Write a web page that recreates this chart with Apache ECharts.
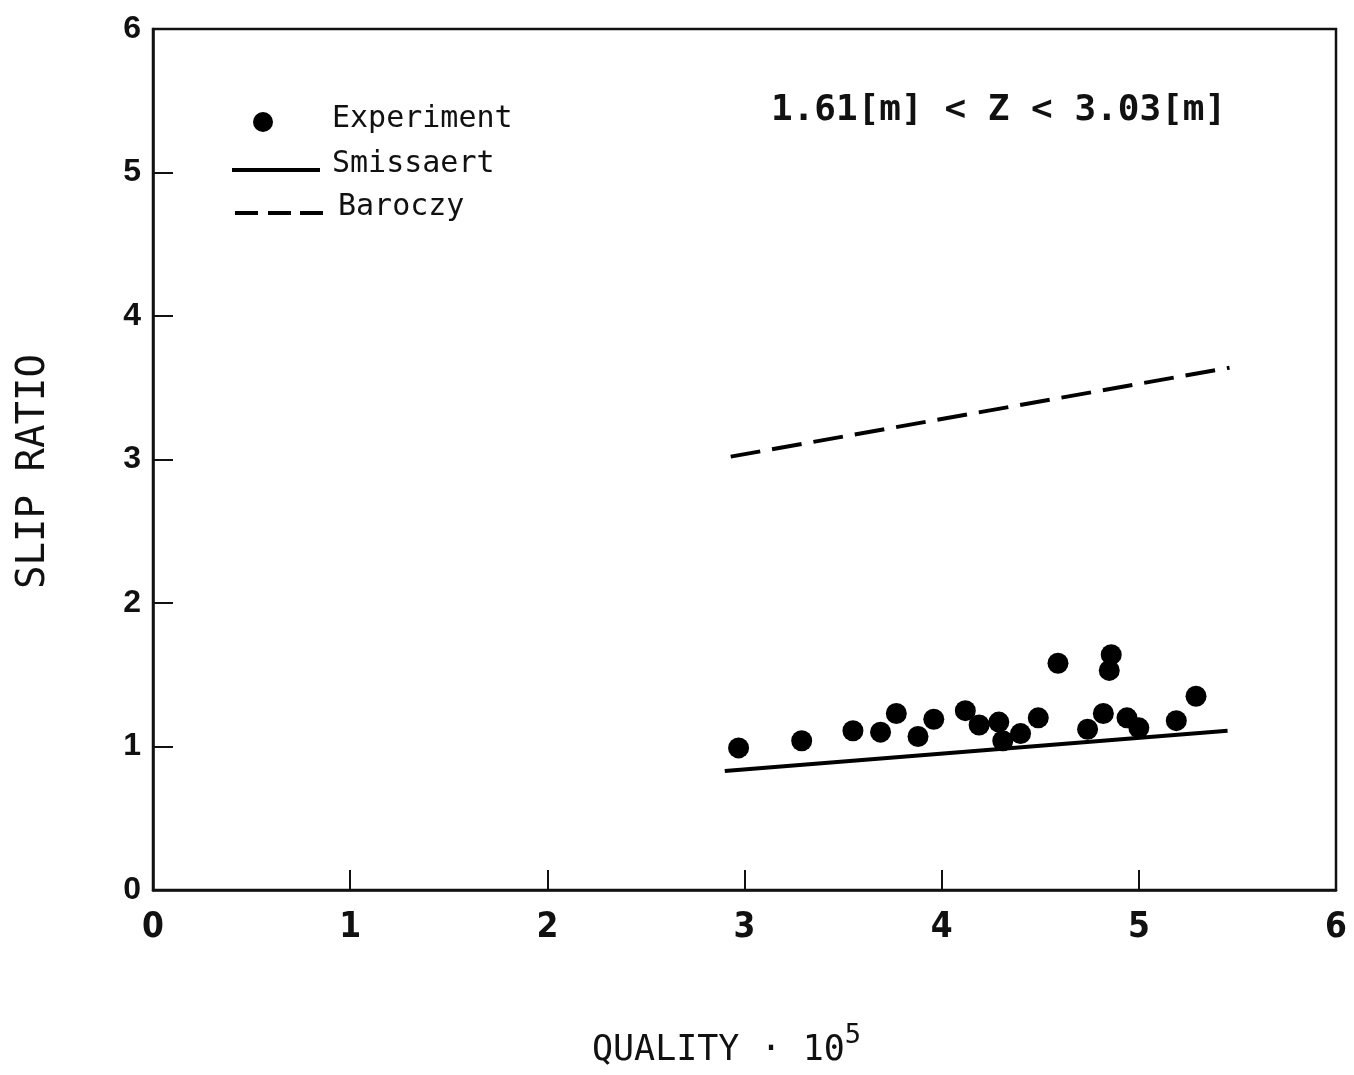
<!DOCTYPE html>
<html>
<head>
<meta charset="utf-8">
<style>
  html, body { margin: 0; padding: 0; background: #fff; }
  #chart { width: 1354px; height: 1075px; }
</style>
<script src="https://cdn.jsdelivr.net/npm/echarts@6/dist/echarts.min.js"></script>
</head>
<body>
<div id="chart"></div>
<script>
// ---- data ----
const xTicks = [0, 1, 2, 3, 4, 5, 6];
const yTicks = [0, 1, 2, 3, 4, 5, 6];

const expX = [2.97, 3.29, 3.55, 3.69, 3.77, 3.88, 3.96, 4.12, 4.19, 4.29, 4.31, 4.40, 4.49, 4.59, 4.74, 4.82, 4.86, 4.85, 4.94, 5.00, 5.19, 5.29];
const expY = [0.99, 1.04, 1.11, 1.10, 1.23, 1.07, 1.19, 1.25, 1.15, 1.17, 1.04, 1.09, 1.20, 1.58, 1.12, 1.23, 1.64, 1.53, 1.20, 1.13, 1.18, 1.35];

const smissaertX = [2.90, 5.45];
const smissaertY = [0.83, 1.11];

const baroczyX = [2.93, 5.46];
const baroczyY = [3.02, 3.64];

const zoneLabel = '1.61[m] < Z < 3.03[m]';

// ---- build ----
const pairs = (xs, ys) => xs.map((x, i) => [x, ys[i]]);
const MONO = 'DejaVu Sans Mono';

const chart = echarts.init(document.getElementById('chart'), null, { renderer: 'canvas' });

const legendText = (padLeft, padBottom) => ({
  fontFamily: MONO,
  fontSize: 30,
  color: '#111',
  rich: {
    t: {
      fontFamily: MONO,
      fontSize: 30,
      color: '#111',
      padding: [0, 0, padBottom, padLeft]
    }
  }
});

const option = {
  backgroundColor: '#ffffff',
  animation: false,
  title: {
    text: zoneLabel,
    left: 766,
    top: 88,
    textStyle: {
      fontFamily: MONO,
      fontWeight: 'bold',
      fontSize: 36,
      color: '#111'
    }
  },
  legend: [
    {
      left: 248,
      top: 99,
      itemWidth: 20,
      itemHeight: 20,
      formatter: '{t|{name}}',
      textStyle: legendText(54, 6),
      data: [{ name: 'Experiment', icon: 'circle' }]
    },
    {
      left: 227,
      top: 144,
      itemWidth: 88,
      itemHeight: 20,
      formatter: '{t|{name}}',
      textStyle: legendText(7, 12),
      data: [{ name: 'Smissaert', icon: 'path://M0,0h88v4h-88z' }]
    },
    {
      left: 230,
      top: 187,
      itemWidth: 88,
      itemHeight: 20,
      formatter: '{t|{name}}',
      textStyle: legendText(10, 12),
      data: [{ name: 'Baroczy', icon: 'path://M0,0h23v4h-23zM33,0h23v4h-23zM65,0h23v4h-23z' }]
    }
  ],
  grid: {
    left: 153,
    right: 18,
    top: 29,
    bottom: 185,
    show: true,
    borderColor: '#111',
    borderWidth: 2.5,
    backgroundColor: 'transparent'
  },
  xAxis: {
    type: 'value',
    min: xTicks[0],
    max: xTicks[xTicks.length - 1],
    interval: 1,
    name: '{a|QUALITY · 10}{s|5}',
    nameLocation: 'middle',
    nameGap: 132,
    nameTextStyle: {
      padding: [0, 36, 0, 0],
      rich: {
        a: { fontFamily: MONO, fontSize: 35, color: '#111', verticalAlign: 'bottom', lineHeight: 46 },
        s: { fontFamily: MONO, fontSize: 27, color: '#111', verticalAlign: 'top', lineHeight: 46, padding: [0, 0, 20, 0] }
      }
    },
    axisLine: { show: true, lineStyle: { color: '#111', width: 2.5 } },
    axisTick: { show: true, inside: true, length: 20, lineStyle: { color: '#111', width: 2 } },
    axisLabel: {
      margin: 20,
      fontFamily: 'DejaVu Sans Condensed',
      fontWeight: 'bold',
      fontSize: 35,
      color: '#111',
      formatter: (v) => String(v)
    },
    splitLine: { show: false }
  },
  yAxis: {
    type: 'value',
    min: yTicks[0],
    max: yTicks[yTicks.length - 1],
    interval: 1,
    name: 'SLIP RATIO',
    nameLocation: 'middle',
    nameRotate: 90,
    nameGap: 100,
    nameTextStyle: {
      fontFamily: MONO,
      fontSize: 39,
      color: '#111',
      padding: [0, 24, 0, 0]
    },
    axisLine: { show: true, lineStyle: { color: '#111', width: 2.5 } },
    axisTick: { show: true, inside: true, length: 20, lineStyle: { color: '#111', width: 2 } },
    axisLabel: {
      margin: 12,
      fontFamily: 'Liberation Sans',
      fontWeight: 'bold',
      fontSize: 32,
      color: '#111'
    },
    splitLine: { show: false }
  },
  series: [
    {
      name: 'Experiment',
      type: 'scatter',
      symbol: 'circle',
      symbolSize: 21,
      itemStyle: { color: '#000', opacity: 1 },
      data: pairs(expX, expY),
      z: 5
    },
    {
      name: 'Smissaert',
      type: 'line',
      symbol: 'none',
      lineStyle: { color: '#000', width: 4 },
      itemStyle: { color: '#000' },
      data: pairs(smissaertX, smissaertY)
    },
    {
      name: 'Baroczy',
      type: 'line',
      symbol: 'none',
      lineStyle: { color: '#000', width: 4, type: [30, 12] },
      itemStyle: { color: '#000' },
      data: pairs(baroczyX, baroczyY)
    }
  ]
};

chart.setOption(option);
</script>
</body>
</html>
